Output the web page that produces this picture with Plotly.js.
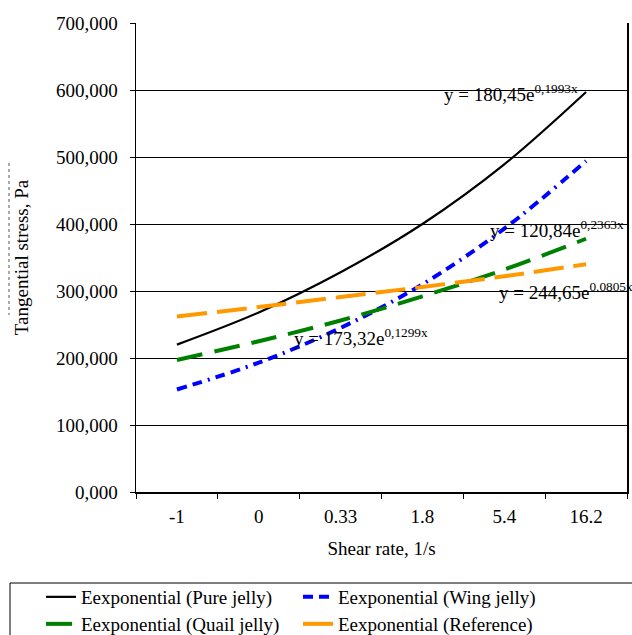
<!DOCTYPE html>
<html>
<head>
<meta charset="utf-8">
<script src="https://cdn.plot.ly/plotly-3.0.1.min.js"></script>
<style>html,body{margin:0;padding:0;background:#fff;}</style>
</head>
<body>
<div id="chart" style="width:632px;height:635px;"></div>
<script>
// ---- data ----
var categories = ['-1', '0', '0.33', '1.8', '5.4', '16.2'];
var pureJelly  = [220, 268, 328, 400, 489, 597];
var wingJelly  = [153, 193, 245, 310, 393, 494];
var quailJelly = [197, 225, 256, 292, 332, 378];
var reference  = [262, 276, 291, 306, 322, 340];
var seriesNames = ['Eexponential (Pure jelly)', 'Eexponential (Wing jelly)',
                   'Eexponential (Quail jelly)', 'Eexponential (Reference)'];
var equations = ['y = 180,45e<sup>0,1993x</sup>', 'y = 120,84e<sup>0,2363x</sup>',
                 'y = 244,65e<sup>0.0805x</sup>', 'y = 173,32e<sup>0,1299x</sup>'];
var xTitle = 'Shear rate, 1/s';
var yTitle = 'Tangential stress, Pa';

var FONT = "'Liberation Serif', 'Times New Roman', serif";
var W = 632, H = 635, L = 136, R = 5, T = 23, B = 143;
var pw = W - L - R, ph = H - T - B;
function px(x) { return (x - L) / pw; }
function py(y) { return (H - B - y) / ph; }

var traces = [
  {x: categories, y: pureJelly, name: seriesNames[0], mode: 'lines', legend: 'legend',
   line: {color: '#000000', width: 2.2, shape: 'spline'}},
  {x: categories, y: wingJelly, name: seriesNames[1], mode: 'lines', legend: 'legend',
   line: {color: '#0000ff', width: 4, shape: 'spline', dash: '10px,6px,10px,6px,2px,6px'}},
  {x: categories, y: quailJelly, name: seriesNames[2], mode: 'lines', legend: 'legend2',
   line: {color: '#008000', width: 4, shape: 'spline', dash: '26px,12px'}},
  {x: categories, y: reference, name: seriesNames[3], mode: 'lines', legend: 'legend2',
   line: {color: '#ff9900', width: 4, shape: 'spline', dash: '30px,10px'}}
];

var annPos = [[442, 93], [488, 229], [497, 291], [292, 337]];
var annotations = equations.map(function (t, i) {
  return {text: t, xref: 'paper', yref: 'paper', x: px(annPos[i][0]), y: py(annPos[i][1]),
          xanchor: 'left', yanchor: 'middle', showarrow: false,
          font: {family: FONT, size: 19, color: '#000'}};
});

var legendCommon = {orientation: 'h', entrywidth: 212, entrywidthmode: 'pixels',
  xanchor: 'left', yanchor: 'middle', bgcolor: 'rgba(0,0,0,0)', borderwidth: 0,
  font: {family: FONT, size: 19, color: '#000'}};

var layout = {
  width: W, height: H,
  margin: {l: L, r: R, t: T, b: B, pad: 0, autoexpand: false},
  paper_bgcolor: '#fff', plot_bgcolor: '#fff',
  separators: ', ',
  font: {family: FONT, size: 18.5, color: '#000'},
  xaxis: {type: 'category', range: [-0.5, 5.5], showgrid: false, zeroline: false,
          showline: true, linecolor: '#000', linewidth: 1.5,
          ticks: 'outside', tickson: 'boundaries', ticklen: 5, tickcolor: '#000',
          ticklabelstandoff: 7,
          tickfont: {family: FONT, size: 19, color: '#000'},
          title: {text: xTitle, font: {family: FONT, size: 19, color: '#000'}, standoff: 15}},
  yaxis: {range: [0, 700], dtick: 100, tickformat: '.3f', showgrid: true, gridcolor: '#000', gridwidth: 1,
          zeroline: false, showline: true, mirror: true, linecolor: '#000', linewidth: 1.5,
          ticks: 'outside', ticklen: 5, tickcolor: '#000', ticklabelstandoff: 8,
          tickfont: {family: FONT, size: 19, color: '#000'},
          title: {text: yTitle, font: {family: FONT, size: 19, color: '#000'}, standoff: 22}},
  showlegend: true,
  legend: Object.assign({}, legendCommon, {x: px(41), y: py(597)}),
  legend2: Object.assign({}, legendCommon, {x: px(41), y: py(624)}),
  annotations: annotations,
  shapes: [
    {type: 'rect', xref: 'paper', yref: 'paper', x0: px(10), x1: px(640), y0: py(583), y1: py(645),
     line: {color: '#000', width: 1}},
    {type: 'line', xref: 'paper', yref: 'paper', x0: px(9), x1: px(9), y0: py(163), y1: py(315),
     line: {color: '#555', width: 1, dash: 'dot'}}
  ]
};

Plotly.newPlot('chart', traces, layout, {displayModeBar: false, staticPlot: true});
</script>
</body>
</html>
